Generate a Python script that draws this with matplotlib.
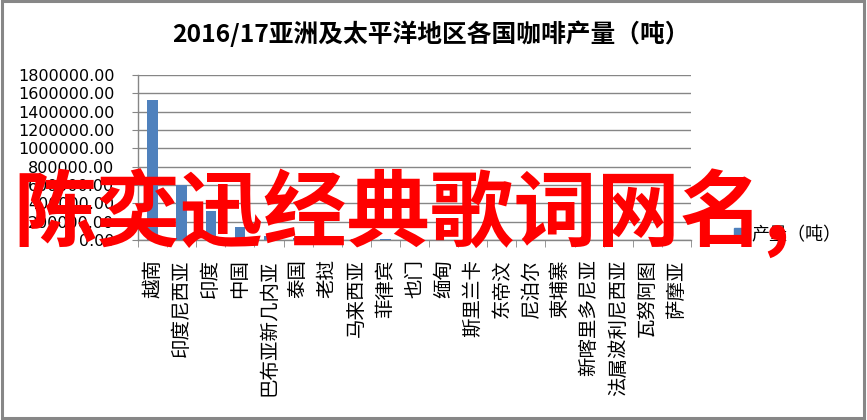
import matplotlib
matplotlib.use("Agg")
import matplotlib.pyplot as plt
from matplotlib.patches import Rectangle, Patch
from matplotlib.ticker import FuncFormatter, FixedLocator
import numpy as np

plt.rcParams['font.family'] = ['Noto Sans CJK SC', 'DejaVu Sans']

title = "2016/17亚洲及太平洋地区各国咖啡产量（吨）"
countries = ["越南", "印度尼西亚", "印度", "中国", "巴布亚新几内亚", "泰国", "老挝",
             "马来西亚", "菲律宾", "也门", "缅甸", "斯里兰卡", "东帝汶", "尼泊尔",
             "柬埔寨", "新喀里多尼亚", "法属波利尼西亚", "瓦努阿图", "萨摩亚"]
production = [1530000, 600000, 312000, 140000, 45000, 22000, 16000,
              14000, 12000, 8000, 5000, 4500, 4000, 500,
              300, 100, 50, 30, 20]
series_name = "产量（吨）"
overlay = "陈奕迅经典歌词网名,"

bar_color = "#4F81BD"
grid_color = "#868686"

fig = plt.figure(figsize=(8.67, 4.2), dpi=100)
ax = fig.add_axes([138/867, 1-240/420, (691-138)/867, (240-75)/420])

x = np.arange(len(countries))
ax.bar(x, production, width=0.36, color=bar_color, zorder=3)

ax.set_xlim(-0.5, len(countries)-0.5)
ax.set_ylim(0, 1800000)
ax.set_yticks(np.arange(0, 1800001, 200000))
ax.yaxis.set_major_formatter(FuncFormatter(lambda v, p: f"{v:.2f}"))
ax.grid(axis='y', color=grid_color, lw=1, zorder=0)

for s in ['top', 'right']:
    ax.spines[s].set_visible(False)
for s in ['left', 'bottom']:
    ax.spines[s].set_color(grid_color)
    ax.spines[s].set_linewidth(1)

ax.tick_params(axis='y', length=4, color=grid_color, pad=13)
for lab in ax.get_yticklabels():
    lab.set_family('DejaVu Sans')
    lab.set_fontsize(11.5)

ax.set_xticks(x)
ax.set_xticklabels(countries, fontsize=14, rotation=90, ha='center', va='top')
ax.tick_params(axis='x', which='major', length=0, pad=14)
ax.xaxis.set_minor_locator(FixedLocator(np.arange(-0.5, len(countries), 1)))
ax.tick_params(axis='x', which='minor', length=5, color=grid_color)

fig.text(431/867, 1-34/420, title, ha='center', va='center',
         fontsize=17.8, fontweight='bold')

ax.legend(handles=[Patch(color=bar_color, label=series_name)],
          loc='center left', bbox_to_anchor=(718/867, 1-235/420),
          bbox_transform=fig.transFigure, frameon=False, fontsize=13,
          handlelength=0.6, handleheight=0.6, handletextpad=0.35)

fig.text(13/867, 1-214/420, overlay, ha='left', va='center', color='#FF0000',
         fontsize=60, fontweight='bold', zorder=10)

fig.patches.append(Rectangle((0.002, 0.004), 0.995, 0.993, transform=fig.transFigure,
                             fill=False, edgecolor='#878787', lw=2.2))

fig.savefig("out.png", dpi=100)
